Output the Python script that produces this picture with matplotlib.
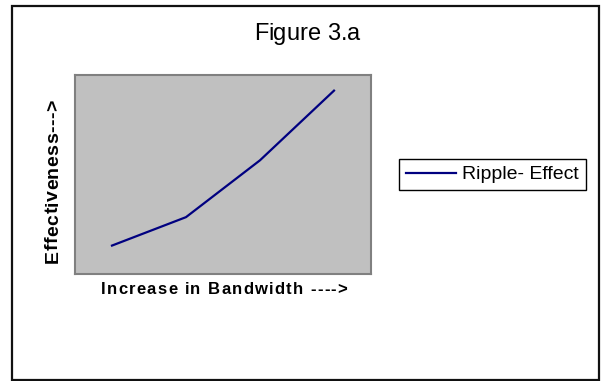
import matplotlib
matplotlib.use("Agg")
import matplotlib.pyplot as plt
from matplotlib import font_manager as fm
from matplotlib.ft2font import FT2Font
from matplotlib.patches import Rectangle

# chart data
bandwidth_steps = [1, 2, 3, 4]
effectiveness = [1.0, 2.0, 4.0, 6.45]
series_name = "Ripple- Effect"
title_text = "Figure 3.a"
x_label = "Increase in Bandwidth ---->"
y_label = "Effectiveness--->"

W, H = 601, 381
DPI = 100
FONT = "Liberation Sans"

fig = plt.figure(figsize=(W / DPI, H / DPI), dpi=DPI)
fig.patch.set_facecolor("white")


def px(x, y):
    # pixel position (origin top-left) -> figure fraction
    return x / W, 1 - y / H


def spaced_text(cx, cy, s, size, weight="normal", gap=0.0, vertical=False):
    """Draw s one glyph at a time with extra gap (px) between letters,
    centred on cx (or cy when vertical); cy/cx is the baseline."""
    prop = fm.FontProperties(family=FONT, weight=weight, size=size)
    font = FT2Font(fm.findfont(prop))
    font.set_size(size, DPI)
    adv = []
    for ch in s:
        g = font.load_char(ord(ch))
        adv.append(g.linearHoriAdvance / 65536)
    total = sum(adv) + gap * (len(s) - 1)
    pos = (cy + total / 2) if vertical else (cx - total / 2)
    for ch, a in zip(s, adv):
        if vertical:
            fig.text(*px(cx, pos), ch, fontproperties=prop, rotation=90,
                     rotation_mode="anchor", ha="left", va="baseline")
            pos -= a + gap
        else:
            fig.text(*px(pos, cy), ch, fontproperties=prop,
                     ha="left", va="baseline")
            pos += a + gap


# plot area
l, t, r, b = 75, 75, 371, 274
ax = fig.add_axes([l / W, 1 - b / H, (r - l) / W, (b - t) / H])
ax.set_facecolor("#c0c0c0")
for sp in ax.spines.values():
    sp.set_color("#808080")
    sp.set_linewidth(1.5)
ax.plot(bandwidth_steps, effectiveness, color="#000080", lw=1.6,
        label=series_name, solid_joinstyle="round")
ax.set_xlim(0.5, 4.5)
ax.set_ylim(0, 7)
ax.set_xticks([])
ax.set_yticks([])

leg = ax.legend(loc="center left", bbox_to_anchor=px(399, 174.5),
                bbox_transform=fig.transFigure, frameon=True, fancybox=False,
                framealpha=1, edgecolor="black", borderaxespad=0,
                borderpad=0.35, handlelength=2.6, handletextpad=0.3,
                prop=fm.FontProperties(family=FONT, size=14))
leg.get_frame().set_linewidth(1.0)

# titles
spaced_text(307, 40, title_text, 17, gap=0.0)
spaced_text(224, 294, x_label, 12, weight="bold", gap=1.3)
spaced_text(58, 181.5, y_label, 14, weight="bold", gap=0.4, vertical=True)

# outer border
fig.patches.append(Rectangle(px(12, 380), 587 / W, 374 / H,
                             transform=fig.transFigure, fill=False,
                             edgecolor="#111111", lw=1.6))

fig.savefig("out.png", dpi=DPI)
